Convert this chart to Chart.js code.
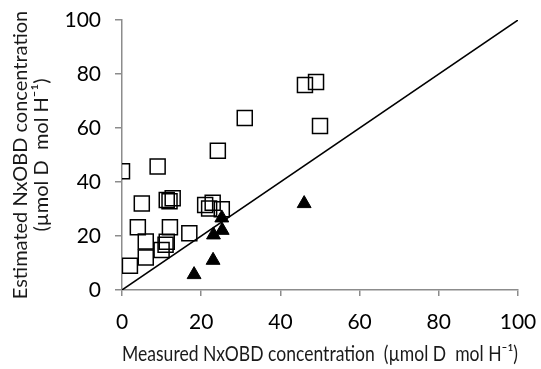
<!DOCTYPE html>
<html>
<head>
<meta charset="utf-8">
<script src="https://cdn.jsdelivr.net/npm/chart.js@4"></script>
<style>
  html, body { margin: 0; padding: 0; background: #fff; }
  #chart { display: block; }
</style>
</head>
<body>
<canvas id="chart" width="541" height="369"></canvas>
<script>
// open squares
const squareX = [0, 2, 4, 5, 6, 6, 9, 10, 11, 11.3, 11.3, 12, 12.8, 12.1, 17, 21, 22.9, 22, 25.2, 24.2, 31, 46.2, 49, 50];
const squareY = [44, 9, 23.2, 32, 18, 12, 45.7, 14.8, 16.8, 17.9, 33.3, 32.9, 34, 23.2, 21, 31.5, 32.3, 30.2, 29.9, 51.6, 63.7, 75.9, 77, 60.7];

// filled triangles
const triangleX = [18.2, 23, 23.1, 25.3, 25.2, 46];
const triangleY = [5.7, 11, 20.4, 22.1, 26.7, 32];

// 1:1 line
const lineX = [0, 100];
const lineY = [0, 100];

const ticks = [0, 20, 40, 60, 80, 100];

function toPoints(xs, ys) {
    return xs.map((x, i) => ({ x: x, y: ys[i] }));
}

const axisColor = '#8c8c8c';
const fontFamily = 'Lato, "Open Sans", sans-serif';

const ctx = document.getElementById('chart').getContext('2d');
const chart = new Chart(ctx, {
    type: 'scatter',
    data: {
        datasets: [
            {
                type: 'line',
                data: toPoints(lineX, lineY),
                borderColor: '#000',
                borderWidth: 1.5,
                pointRadius: 0,
                fill: false,
            },
            {
                data: toPoints(squareX, squareY),
                pointStyle: 'rect',
                pointRadius: 10.6,
                borderColor: '#000',
                borderWidth: 1.5,
                backgroundColor: 'rgba(0,0,0,0)',
            },
            {
                data: toPoints(triangleX, triangleY),
                pointStyle: 'triangle',
                pointRadius: 8,
                borderColor: '#000',
                borderWidth: 1,
                backgroundColor: '#000',
            },
        ],
    },
    options: {
        responsive: false,
        animation: false,
        layout: { padding: { left: 0, right: 23, top: 20, bottom: 0 } },
        plugins: {
            legend: { display: false },
            tooltip: { enabled: false },
        },
        scales: {
            x: {
                type: 'linear',
                min: 0,
                max: 100,
                afterBuildTicks: (scale) => { scale.ticks = ticks.map(v => ({ value: v })); },
                afterFit: (scale) => {
                    scale.height = 79;
                    scale.paddingLeft = 0;
                    scale.paddingRight = 0;
                },
                border: { color: axisColor, width: 1.5 },
                grid: { drawOnChartArea: false, color: axisColor, tickLength: 6, lineWidth: 1.5 },
                ticks: { color: '#000', padding: 14, font: { family: fontFamily, size: 21 } },
                title: {
                    display: true,
                    text: 'Measured NxOBD concentration  (\u00b5mol D  mol H\u207b\u00b9)',
                    color: '#1a1a1a',
                    font: { family: fontFamily, size: 20.5, lineHeight: 1.2 },
                    padding: { top: 0, bottom: 2 },
                },
            },
            y: {
                type: 'linear',
                min: 0,
                max: 100,
                afterBuildTicks: (scale) => { scale.ticks = ticks.map(v => ({ value: v })); },
                afterFit: (scale) => {
                    scale.width = 122;
                    scale.paddingTop = 0;
                    scale.paddingBottom = 0;
                },
                border: { color: axisColor, width: 1.5 },
                grid: { drawOnChartArea: false, color: axisColor, tickLength: 7, lineWidth: 1.5 },
                ticks: { color: '#000', padding: 14, font: { family: fontFamily, size: 21 } },
                title: {
                    display: true,
                    text: ['Estimated NxOBD concentration', '(\u00b5mol D  mol H\u207b\u00b9)'],
                    color: '#1a1a1a',
                    font: { family: fontFamily, size: 20, lineHeight: 1.05 },
                    padding: { top: 10, bottom: 0 },
                },
            },
        },
    },
});
</script>
</body>
</html>
